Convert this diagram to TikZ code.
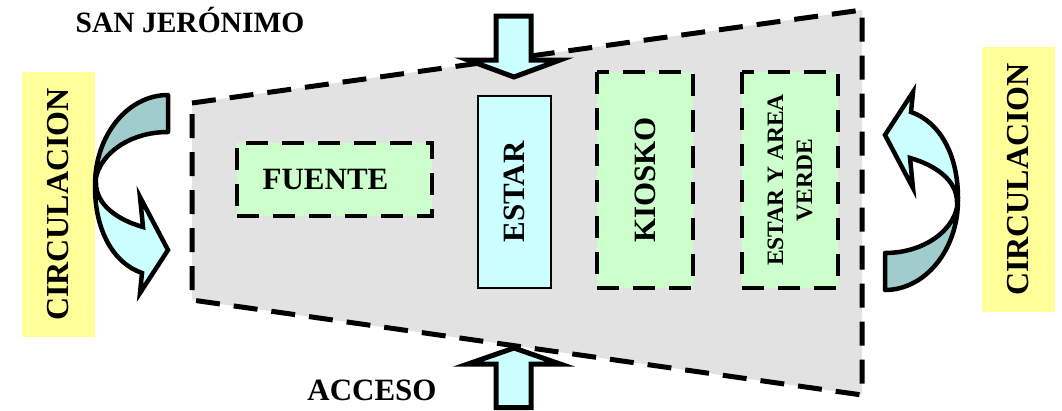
\documentclass[tikz,border=0pt]{standalone}
\usepackage{fontspec}
\setmainfont{Liberation Serif}

\definecolor{amarillo}{HTML}{FFFF99}
\definecolor{verdeclaro}{HTML}{CCFFCC}
\definecolor{celeste}{HTML}{CCFFFF}
\definecolor{verdegris}{HTML}{A0CCCC}
\definecolor{grava}{HTML}{E2E2E2}

\tikzset{
  rotulo/.style={font=\bfseries\fontsize{31}{33}\selectfont, inner sep=0pt},
  zona/.style={draw=black, line width=4pt, dash pattern=on 22pt off 14pt,
    fill=verdeclaro, inner sep=0pt, rotulo},
  franja/.style={fill=amarillo, inner sep=0pt, rotate=90,
    font=\bfseries\fontsize{32}{34}\selectfont,
    minimum width=265, minimum height=73},
  flecha/.style={draw=black, line width=5pt, fill=celeste, line join=miter},
  curva/.pic={
    % parte de atras
    \draw[line width=4.5pt, fill=verdegris, line join=round]
      (0,0) .. controls (-40,0) and (-73,40) .. (-73,90)
      .. controls (-72,61) and (-40,37) .. (0,37) -- cycle;
    % parte de la punta
    \draw[line width=4.5pt, fill=celeste, line join=miter]
      (-72,88) .. controls (-72,110) and (-50,125) .. (-25,132)
      -- (-28,102) -- (0,155) -- (-28,198) -- (-26,178)
      .. controls (-55,168) and (-73,135) .. (-73,92) -- cycle;
  },
}

\begin{document}
\begin{tikzpicture}[x=1pt, y=-1pt]
  \useasboundingbox (0,0) rectangle (1062,410);
  % plaza
  \draw[line width=5pt, dash pattern=on 24pt off 14pt, fill=grava]
    (192,103) -- (862,10) -- (862,395) -- (192,300) -- cycle;

  % circulaciones
  \node[franja] (circizq) at (58.5,204.5) {CIRCULACION};
  \node[franja] (circder) at (1018.5,179.5) {CIRCULACION};
  \pic at (168,95) {curva};
  \pic[rotate=180] at (885,290) {curva};

  % accesos
  \draw[flecha] (496,16) -- (531,16) -- (531,60) -- (560,60) -- (514,77)
    -- (468,60) -- (496,60) -- cycle;
  \draw[flecha] (514,348) -- (560,364) -- (531,364) -- (531,407.5)
    -- (496,407.5) -- (496,364) -- (468,364) -- cycle;

  % zonas
  \node[zona, minimum width=195, minimum height=73] (fuente) at (334.5,179.5) {FUENTE\hspace*{18pt}};
  \node[draw=black, line width=1.5pt, fill=celeste, rotulo, rotate=90,
    minimum width=192, minimum height=73] (estar) at (514.5,192) {ESTAR};
  \node[zona, rotate=90, minimum width=216, minimum height=96] (kiosko) at (645,180) {KIOSKO};
  \node[zona, rotate=90, minimum width=216, minimum height=96, align=center,
    font=\bfseries\fontsize{23.5}{29}\selectfont] (areaverde) at (790,180) {ESTAR Y AREA\\VERDE};

  % textos
  \node[rotulo, anchor=base, font=\bfseries\fontsize{29.5}{31}\selectfont] (sanjeronimo) at (190,32) {SAN JERÓNIMO};
  \node[rotulo, anchor=base] (acceso) at (372,400) {ACCESO};
\end{tikzpicture}
\end{document}
